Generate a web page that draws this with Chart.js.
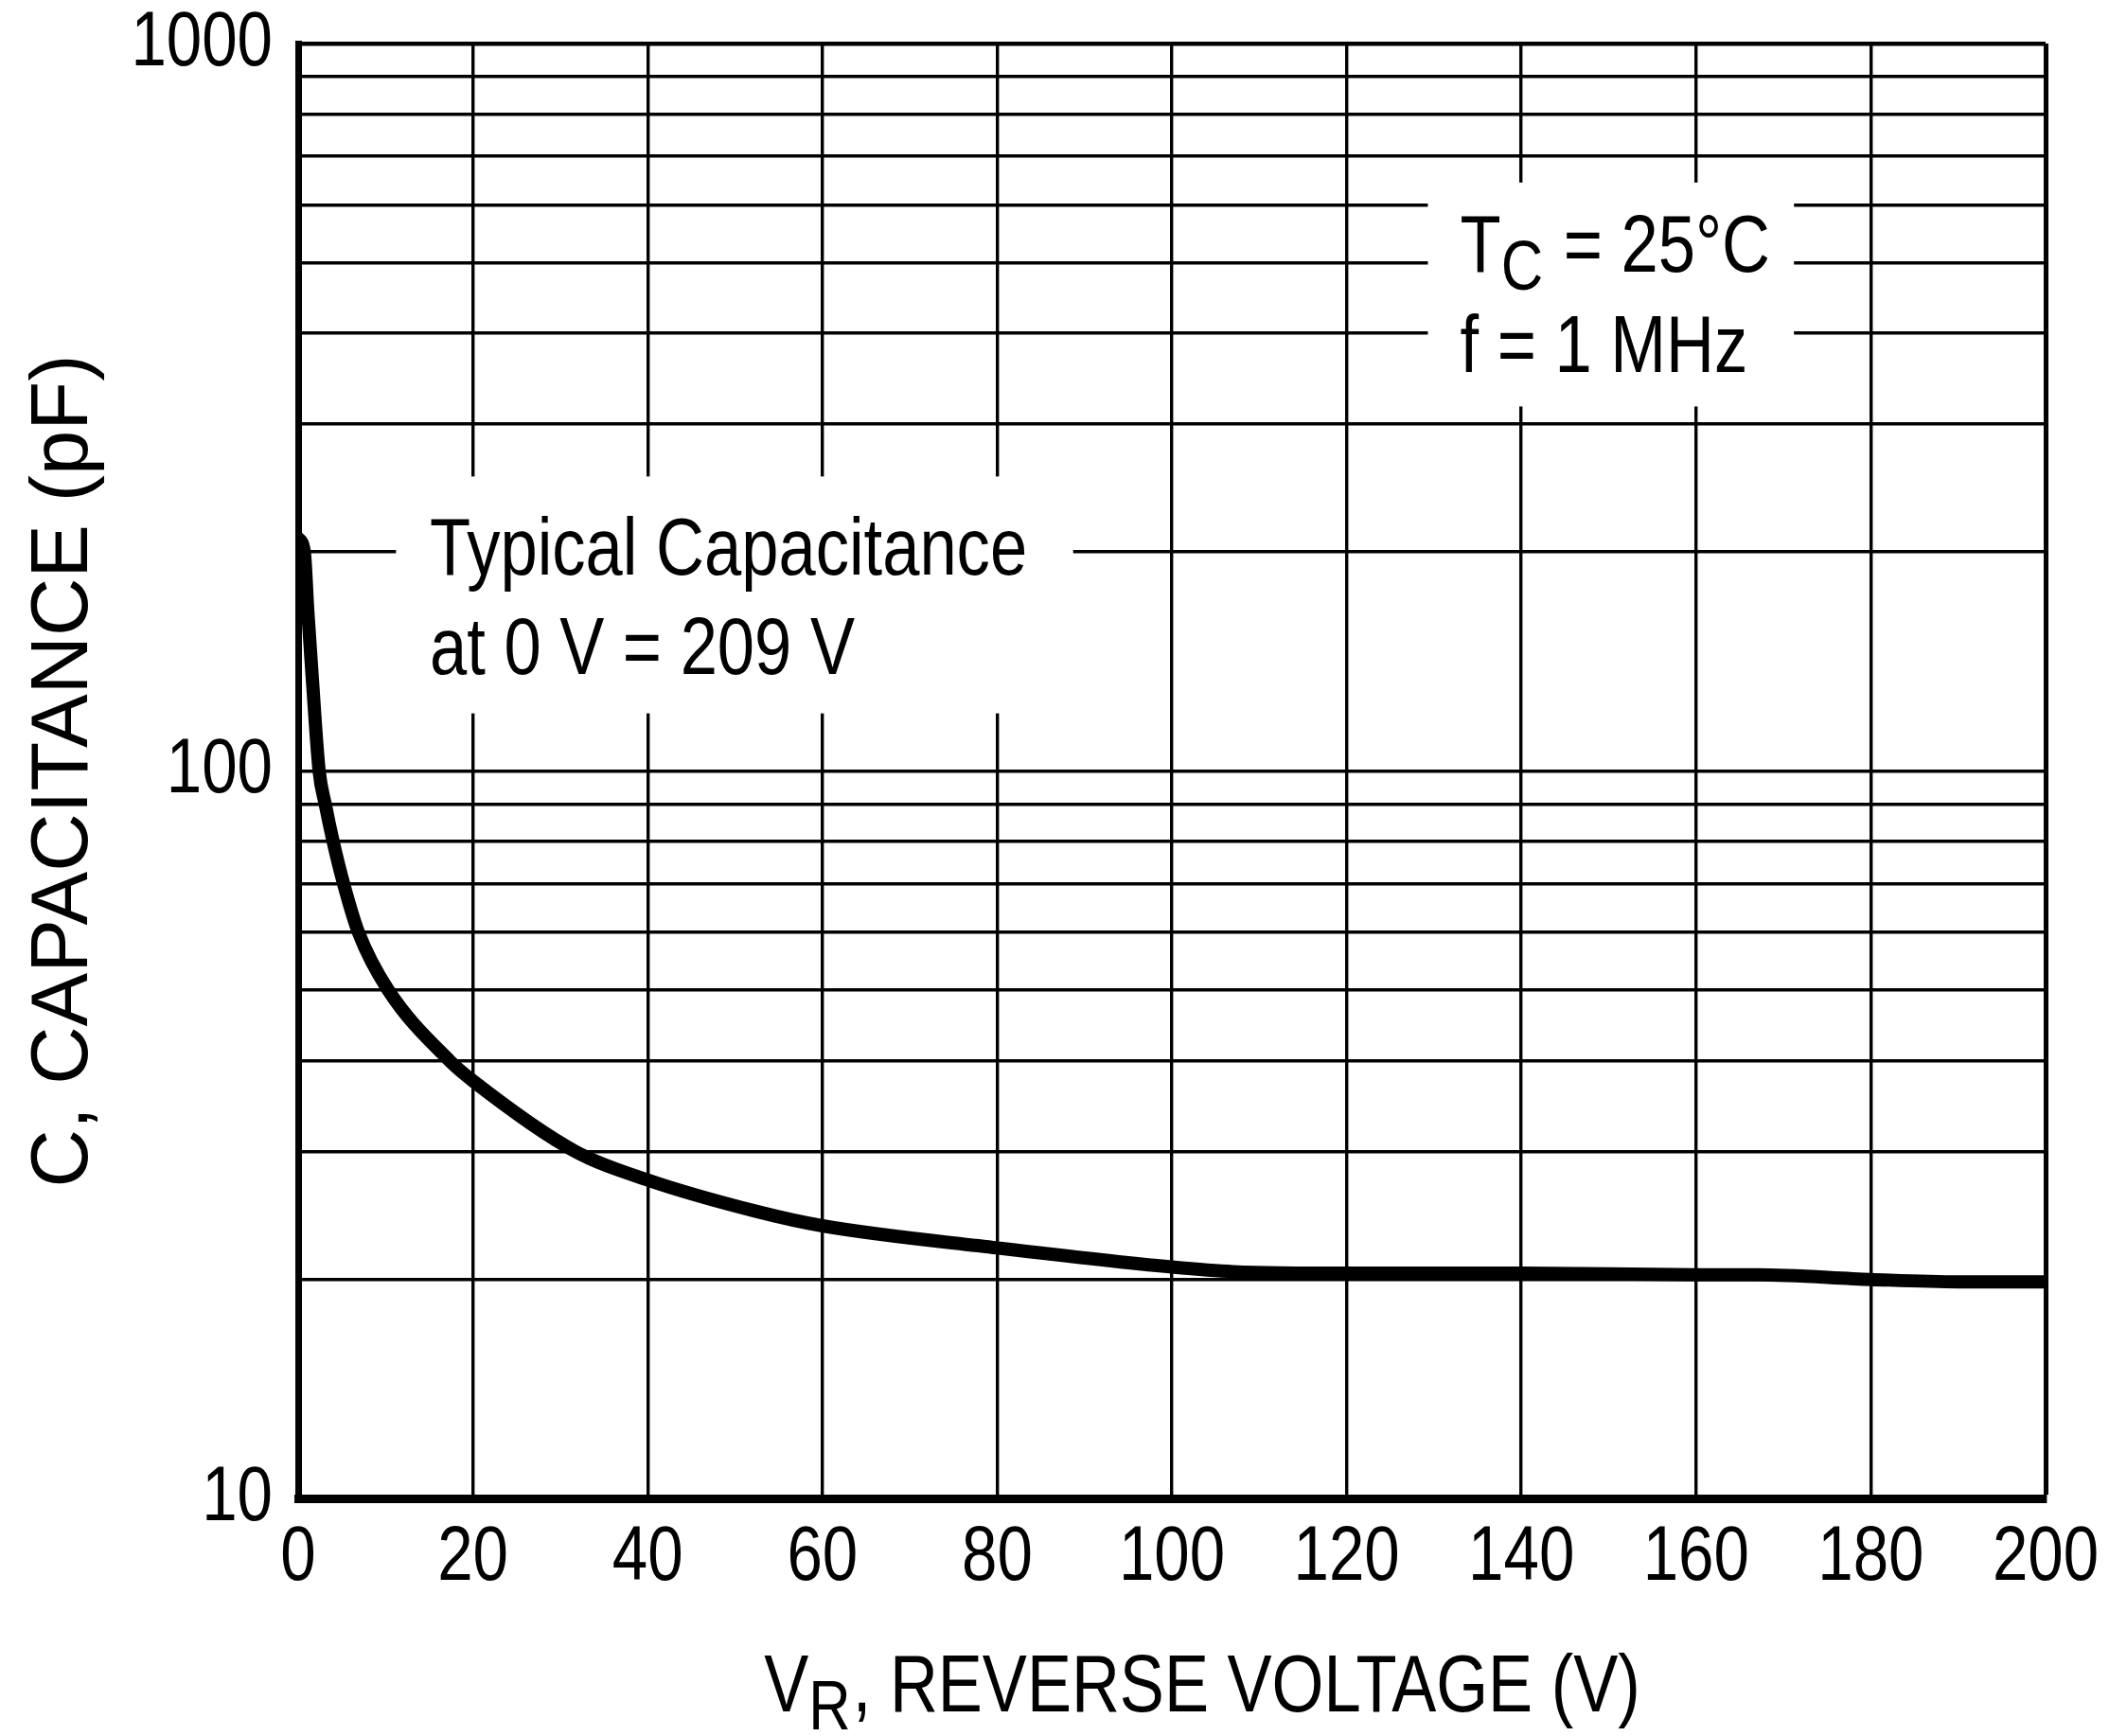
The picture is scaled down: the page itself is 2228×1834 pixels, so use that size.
<!DOCTYPE html>
<html>
<head>
<meta charset="utf-8">
<script src="https://cdn.jsdelivr.net/npm/chart.js@4.4.1/dist/chart.umd.min.js"></script>
<style>
  html, body { margin: 0; padding: 0; background: #fff; }
  #wrap { width: 2228px; height: 1834px; }
</style>
</head>
<body>
<div id="wrap"><canvas id="capChart"></canvas></div>
<script>
// reverse voltage (V) and capacitance (pF)
var voltage = [0, 0.7, 1.1, 1.6, 2.4, 3.1, 4.0, 5.2, 6.9, 10.3, 17.3, 20, 31.7, 40, 52.5, 60, 80, 100, 107, 120, 140, 160, 167, 180, 190, 200];
var capacitance = [209, 200, 166, 135, 100, 90, 80, 70, 60, 50, 40, 37.5, 30, 27.4, 24.8, 23.7, 22.1, 20.8, 20.5, 20.4, 20.4, 20.3, 20.3, 20.0, 19.85, 19.85];

var yTickLabels = [10, 100, 1000];
var xTickStep = 20;

var narrow = '"Liberation Sans Narrow", "Liberation Sans", sans-serif';
var regular = '"Liberation Sans", Arial, sans-serif';

// if no narrow face is installed, squeeze the regular one through fillText's maxWidth
var probe = document.createElement('canvas').getContext('2d');
probe.font = '86px "Liberation Sans Narrow", monospace';
var probeW = probe.measureText('Typical Capacitance').width;
probe.font = '86px monospace';
var squeeze = probeW === probe.measureText('Typical Capacitance').width ? 0.82 : 1;

var fillText0 = CanvasRenderingContext2D.prototype.fillText;
CanvasRenderingContext2D.prototype.fillText = function (text, x, y, maxWidth) {
  if (squeeze < 1 && this.font.indexOf('Narrow') >= 0) {
    var w = this.measureText(text).width * squeeze;
    maxWidth = maxWidth === undefined ? w : Math.min(maxWidth, w);
  }
  if (maxWidth === undefined) return fillText0.call(this, text, x, y);
  return fillText0.call(this, text, x, y, maxWidth);
};

// notes drawn on white boxes over the grid: box [v0, v1, c0, c1], text at [v, baseline c per line]
var notes = [
  { box: [11.2, 88.7, 254, 120], lines: [[['Typical Capacitance', 0]], [['at 0 V = 209 V', 0]]], at: [15.06, 186, 136] },
  { box: [129.3, 171.2, 644, 317], lines: [[['T', 0], ['C', 1], [' = 25\u00b0C', 0]], [['f = 1 MHz', 0]]], at: [133.0, 486, 354] }
];

function partFont(p, size) {
  return (p[1] ? Math.round(size * 0.87) : size) + 'px ' + narrow;
}

function partsWidth(ctx, parts, size) {
  var w = 0;
  parts.forEach(function (p) {
    ctx.font = partFont(p, size);
    w += ctx.measureText(p[0]).width * squeeze + (p[1] ? 2 : 0);
  });
  return w;
}

function drawParts(ctx, parts, x, y, size) {
  parts.forEach(function (p) {
    ctx.font = partFont(p, size);
    ctx.fillText(p[0], x, p[1] ? y + 19 : y);
    x += ctx.measureText(p[0]).width * squeeze + (p[1] ? 2 : 0);
  });
}

var notePlugin = {
  id: 'notes',
  beforeDatasetsDraw: function (chart) {
    var ctx = chart.ctx, x = chart.scales.x, y = chart.scales.y;
    ctx.save();
    notes.forEach(function (n) {
      var x0 = x.getPixelForValue(n.box[0]), x1 = x.getPixelForValue(n.box[1]);
      var y0 = y.getPixelForValue(n.box[2]), y1 = y.getPixelForValue(n.box[3]);
      ctx.fillStyle = '#fff';
      ctx.fillRect(x0, y0, x1 - x0, y1 - y0);
      ctx.fillStyle = '#000';
      ctx.textBaseline = 'alphabetic';
      ctx.textAlign = 'left';
      n.lines.forEach(function (parts, i) {
        drawParts(ctx, parts, x.getPixelForValue(n.at[0]), y.getPixelForValue(n.at[1 + i]), 86);
      });
    });
    ctx.restore();
  },
  afterDraw: function (chart) {
    // x axis title, with subscript R
    var ctx = chart.ctx, area = chart.chartArea;
    var parts = [['V', 0], ['R', 1], [', REVERSE VOLTAGE (V)', 0]];
    ctx.save();
    ctx.fillStyle = '#000';
    ctx.textBaseline = 'alphabetic';
    ctx.textAlign = 'left';
    var w = partsWidth(ctx, parts, 86);
    drawParts(ctx, parts, (area.left + area.right) / 2 + 32 - w / 2, area.bottom + 225, 86);
    ctx.restore();
  }
};

var ctx = document.getElementById('capChart').getContext('2d');
var capChart = new Chart(ctx, {
  type: 'line',
  data: {
    datasets: [{
      data: voltage.map(function (v, i) { return { x: v, y: capacitance[i] }; }),
      borderColor: '#000',
      borderWidth: 14,
      borderCapStyle: 'round',
      borderJoinStyle: 'round',
      pointRadius: 0,
      fill: false,
      cubicInterpolationMode: 'monotone'
    }]
  },
  options: {
    responsive: true,
    maintainAspectRatio: false,
    animation: false,
    layout: { padding: { top: 46, right: 67, left: 0, bottom: 0 } },
    plugins: {
      legend: { display: false },
      tooltip: { enabled: false }
    },
    scales: {
      x: {
        type: 'linear',
        min: 0,
        max: 200,
        afterFit: function (s) { s.height = 251; s.paddingLeft = 0; s.paddingRight = 0; },
        border: { color: '#000', width: 9 },
        grid: {
          color: '#000',
          lineWidth: function (c) { return c.tick && c.tick.value === 200 ? 5 : 3.4; },
          drawTicks: false
        },
        ticks: {
          stepSize: xTickStep,
          padding: 22,
          color: '#000',
          maxRotation: 0,
          font: { family: narrow, size: 82, lineHeight: 1 }
        }
      },
      y: {
        type: 'logarithmic',
        min: 10,
        max: 1000,
        afterFit: function (s) { s.width = 315; s.paddingTop = 0; s.paddingBottom = 0; },
        border: { color: '#000', width: 7 },
        grid: {
          color: '#000',
          lineWidth: function (c) { return c.tick && c.tick.value === 1000 ? 4.5 : 3.4; },
          drawTicks: false
        },
        ticks: {
          autoSkip: false,
          padding: 27,
          color: '#000',
          font: { family: narrow, size: 82, lineHeight: 1 },
          callback: function (v) {
            if (v === 150) return null; // no 150 grid line on this chart
            return yTickLabels.indexOf(v) >= 0 ? String(v) : '';
          }
        },
        title: {
          display: true,
          text: 'C, CAPACITANCE (pF)',
          color: '#000',
          font: { family: regular, size: 85, lineHeight: 1.2 },
          padding: { top: 18, bottom: 0 }
        }
      }
    }
  },
  plugins: [notePlugin]
});
</script>
</body>
</html>
